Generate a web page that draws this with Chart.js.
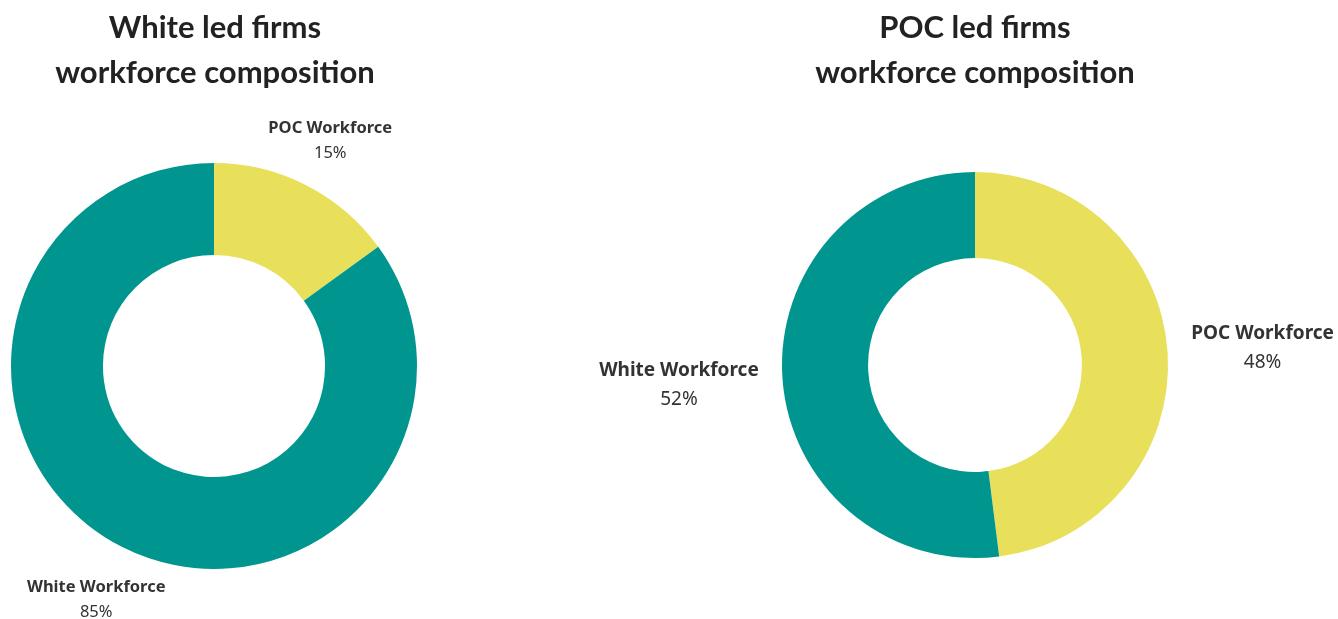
<!DOCTYPE html>
<html>
<head>
<meta charset="utf-8">
<script src="https://cdn.jsdelivr.net/npm/chart.js@4"></script>
<style>
    body { margin: 0; width: 1338px; height: 619px; background: #fff; position: relative; overflow: hidden; font-family: Lato, sans-serif; }
    .box { position: absolute; top: 0; height: 619px; }
    .title { position: absolute; top: 4px; width: 100%; text-align: center; font-weight: bold; font-size: 31px; line-height: 45px; color: #222; }
</style>
</head>
<body>
<div class="box" id="left-box" style="left:0;width:428px">
    <div class="title" style="left:1px">White led firms<br>workforce composition</div>
    <canvas id="left-chart" width="428" height="619"></canvas>
</div>
<div class="box" id="right-box" style="left:560px;width:778px">
    <div class="title" style="left:0;width:830px">POC led firms<br>workforce composition</div>
    <canvas id="right-chart" width="778" height="619"></canvas>
</div>
<script>
const categories = ["POC Workforce", "White Workforce"];
const whiteLedValues = [15, 85];
const pocLedValues = [48, 52];
const sliceColors = ["#E8DF5A", "#00968F"];

function start() {
    // draws the "name / value%" label outside each slice,
    // pushed out so the text box sits about `gap` px off the ring
    const outsideLabels = {
        id: "outsideLabels",
        afterDraw(chart, args, opts) {
            const ctx = chart.ctx;
            const arcs = chart.getDatasetMeta(0).data;
            const bold = "bold " + opts.size + "px 'Noto Sans', sans-serif";
            const plain = opts.size + "px 'Noto Sans', sans-serif";
            arcs.forEach((arc, i) => {
                const mid = (arc.startAngle + arc.endAngle) / 2;
                const cos = Math.cos(mid), sin = Math.sin(mid);
                ctx.save();
                ctx.font = bold;
                const halfW = ctx.measureText(chart.data.labels[i]).width / 2;
                const r = arc.outerRadius + opts.gap + Math.abs(cos) * halfW;
                const x = arc.x + cos * r;
                const y = arc.y + sin * r + opts.dy;
                ctx.textAlign = "center";
                ctx.textBaseline = "middle";
                ctx.fillStyle = "#333";
                ctx.fillText(chart.data.labels[i], x, y - opts.spread);
                ctx.font = plain;
                ctx.fillText(chart.data.datasets[0].data[i] + "%", x, y + opts.spread);
                ctx.restore();
            });
        }
    };

    function makeDoughnut(id, values, cutout, padding, labelOpts) {
        const ctx = document.getElementById(id).getContext("2d");
        return new Chart(ctx, {
            type: "doughnut",
            data: {
                labels: categories,
                datasets: [{
                    data: values,
                    backgroundColor: sliceColors,
                    borderWidth: 0
                }]
            },
            options: {
                responsive: false,
                animation: false,
                cutout: cutout,
                layout: { padding: padding },
                plugins: {
                    legend: { display: false },
                    tooltip: { enabled: false },
                    outsideLabels: labelOpts
                }
            },
            plugins: [outsideLabels]
        });
    }

    makeDoughnut("left-chart", whiteLedValues, "54.7%",
        { top: 163, bottom: 50, left: 11, right: 11 },
        { gap: 25, size: 16.5, spread: 12.5, dy: 3 });
    makeDoughnut("right-chart", pocLedValues, "55.4%",
        { top: 172, bottom: 61, left: 222, right: 170 },
        { gap: 24, size: 19, spread: 14.5, dy: 1.5 });
}

window.addEventListener("load", start, false);
</script>
</body>
</html>
